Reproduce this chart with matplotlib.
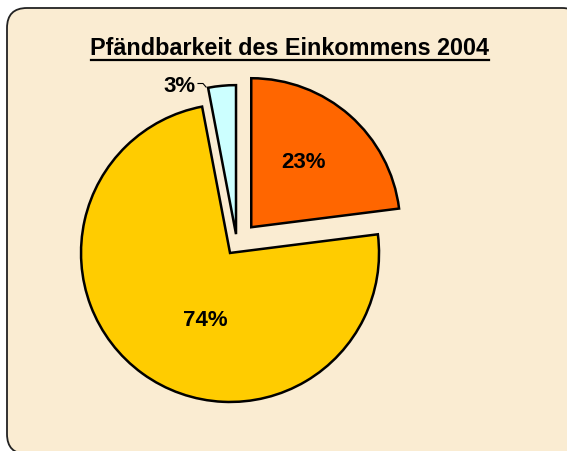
import matplotlib.pyplot as plt
from matplotlib.patches import FancyBboxPatch

plt.rcParams['font.family'] = ['Liberation Sans', 'DejaVu Sans']

# data
categories = ['pfändbar', 'unpfändbar', 'sonstige']
shares = [23, 74, 3]
colors = ['#FF6600', '#FFCC00', '#CCFFFF']
explode = [21.7, 11.7, 9.4]  # pixels, pie radius is 149

W, H = 567, 451
fig = plt.figure(figsize=(W / 100, H / 100), dpi=100)
fig.patch.set_facecolor('white')
ax = fig.add_axes([0, 0, 1, 1])

# rounded parchment-like frame (pixel coords, y up)
box = FancyBboxPatch((7, -3), 575, 446,
                     boxstyle='round,pad=0,rounding_size=20',
                     facecolor='#FAECD2', edgecolor='#222222', lw=1.3, zorder=0)
ax.add_patch(box)

r = 149
cx, cy = 236.9, H - 243.5
wedges, _ = ax.pie(shares, colors=colors, explode=explode, startangle=90,
                   counterclock=False, radius=r, center=(cx, cy),
                   wedgeprops=dict(edgecolor='black', linewidth=1.8))

ax.set_xlim(0, W)
ax.set_ylim(0, H)
ax.set_aspect('equal')
ax.axis('off')

lab = ['%d%%' % s for s in shares]
ax.text(304, H - 162, lab[0], ha='center', va='center', fontsize=16, fontweight='bold')
ax.text(205, H - 320, lab[1], ha='center', va='center', fontsize=16, fontweight='bold')
ax.text(180, H - 86, lab[2], ha='center', va='center', fontsize=16, fontweight='bold')
ax.plot([198, 203, 206], [H - 83.5, H - 83.5, H - 87], color='black', lw=0.8)

# underlined title
ax.text(289.5, H - 55, 'Pfändbarkeit des Einkommens 2004', ha='center', va='baseline',
        fontsize=16.8, fontweight='bold')
ax.plot([90.5, 488.5], [H - 59.5, H - 59.5], color='black', lw=1.6)

fig.savefig('out.png', dpi=100)
